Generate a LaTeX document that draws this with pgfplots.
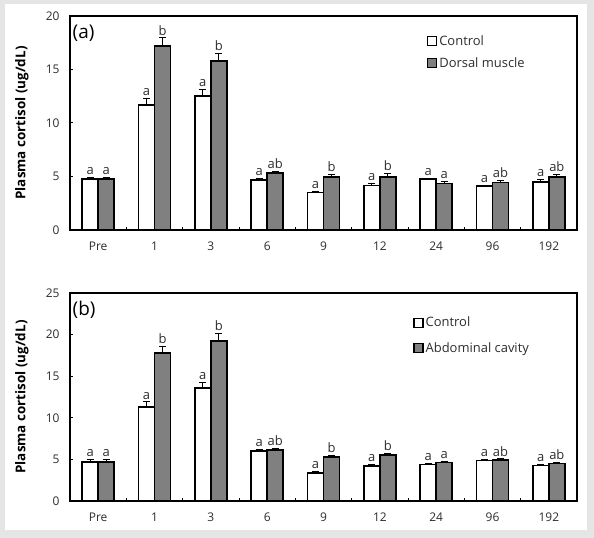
\documentclass[border=0pt]{standalone}
\usepackage{fontspec}
\setmainfont{Open Sans}
\usepackage{pgfplots}
\usepackage{pgfplotstable}
\pgfplotsset{compat=1.18}

\definecolor{bargray}{RGB}{128,128,128}
\definecolor{frame}{RGB}{229,229,229}
\definecolor{txt}{RGB}{45,45,45}

% panel (a): control / dorsal muscle
\pgfplotstableread{
x y e lab
0 4.75 0.15 a
1 11.7 0.55 a
2 12.5 0.6 a
3 4.7 0.15 a
4 3.5 0.12 a
5 4.15 0.2 a
6 4.75 0.1 a
7 4.1 0.1 a
8 4.5 0.2 a
}\ctlA
\pgfplotstableread{
x y e lab
0 4.75 0.15 a
1 17.2 0.75 b
2 15.8 0.7 b
3 5.3 0.2 ab
4 4.95 0.2 b
5 4.95 0.3 b
6 4.35 0.2 a
7 4.45 0.2 ab
8 4.95 0.2 ab
}\dorA

% panel (b): control / abdominal cavity
\pgfplotstableread{
x y e lab
0 4.7 0.25 a
1 11.3 0.6 a
2 13.6 0.65 a
3 6.0 0.2 a
4 3.4 0.12 a
5 4.2 0.2 a
6 4.4 0.12 a
7 4.85 0.1 a
8 4.25 0.12 a
}\ctlB
\pgfplotstableread{
x y e lab
0 4.7 0.25 a
1 17.8 0.8 b
2 19.2 0.95 b
3 6.1 0.25 ab
4 5.3 0.2 b
5 5.55 0.2 b
6 4.65 0.12 a
7 4.9 0.15 ab
8 4.5 0.12 ab
}\abdB

\pgfplotsset{
  cortisol/.style={
    scale only axis,
    width=507bp,
    ybar=0pt,
    bar width=16bp,
    xmin=-0.5, xmax=8.5,
    ymin=0,
    enlarge x limits=false,
    axis line style={line width=1.3bp,black},
    xtick={0,...,8},
    xticklabels={Pre,1,3,6,9,12,24,96,192},
    minor xtick={0.5,1.5,...,7.5},
    xtick pos=bottom, ytick pos=left,
    tick align=inside,
    major tick length=3bp,
    minor tick length=3bp,
    major x tick style={draw=none},
    tick style={line width=1bp,black},
    tick label style={font=\fontsize{12}{14}\selectfont,color=txt},
    /pgf/number format/assume math mode=true,
    xticklabel style={yshift=-8bp},
    yticklabel style={xshift=-7bp},
    ylabel={\bfseries Plasma cortisol (ug/dL)},
    every axis y label/.style={at={(rel axis cs:0,0.5)},rotate=90,anchor=center,
      yshift=48bp,font=\fontsize{13.5}{15}\selectfont,color=black},
    legend cell align=left,
    legend style={draw=none,fill=none,font=\fontsize{13}{15}\selectfont,text=txt,
      inner sep=0pt,anchor=north west},
    legend image code/.code={\draw[#1,line width=1.2bp] (0bp,-4.5bp) rectangle (9bp,4.5bp);},
  },
  barstyle/.style={
    draw=black, line width=1.6bp, fill=#1,
    error bars/y dir=plus, error bars/y explicit,
    error bars/error bar style={line width=1bp,black},
    error bars/error mark options={rotate=90,mark size=3.5bp,line width=1bp,black},
    point meta=explicit symbolic,
    visualization depends on={\thisrow{e}\as\myerr},
    nodes near coords,
    nodes near coords style={anchor=south,font=\fontsize{13}{15}\selectfont,color=txt,
      shift={(axis direction cs:0,\myerr)},yshift=0bp,inner sep=2bp},
  },
}

\begin{document}
\begin{tikzpicture}
\useasboundingbox (0bp,0bp) rectangle (594bp,538bp);
\fill[frame] (0bp,0bp) rectangle (594bp,538bp);
\fill[white] (5bp,8bp) rectangle (587bp,534bp);

\begin{axis}[cortisol, at={(70bp,308bp)}, anchor=south west, height=214bp,
  ymax=20, ytick={0,5,...,20},
  legend style={at={(rel axis cs:0.704,0.92)},row sep=7bp}]
\addplot[barstyle=white] table[x=x,y=y,y error=e,meta=lab] {\ctlA};
\addplot[barstyle=bargray] table[x=x,y=y,y error=e,meta=lab] {\dorA};
\legend{Control,Dorsal muscle}
\node[anchor=north west,font=\fontsize{19}{21}\selectfont,inner sep=0pt] at (rel axis cs:0.005,0.96) {(a)};
\end{axis}

\begin{axis}[cortisol, at={(70bp,37bp)}, anchor=south west, height=208bp,
  ymax=25, ytick={0,5,...,25},
  legend style={at={(rel axis cs:0.677,0.895)},row sep=10bp}]
\addplot[barstyle=white] table[x=x,y=y,y error=e,meta=lab] {\ctlB};
\addplot[barstyle=bargray] table[x=x,y=y,y error=e,meta=lab] {\abdB};
\legend{Control,Abdominal cavity}
\node[anchor=north west,font=\fontsize{19}{21}\selectfont,inner sep=0pt] at (rel axis cs:0.005,0.96) {(b)};
\end{axis}
\end{tikzpicture}
\end{document}
